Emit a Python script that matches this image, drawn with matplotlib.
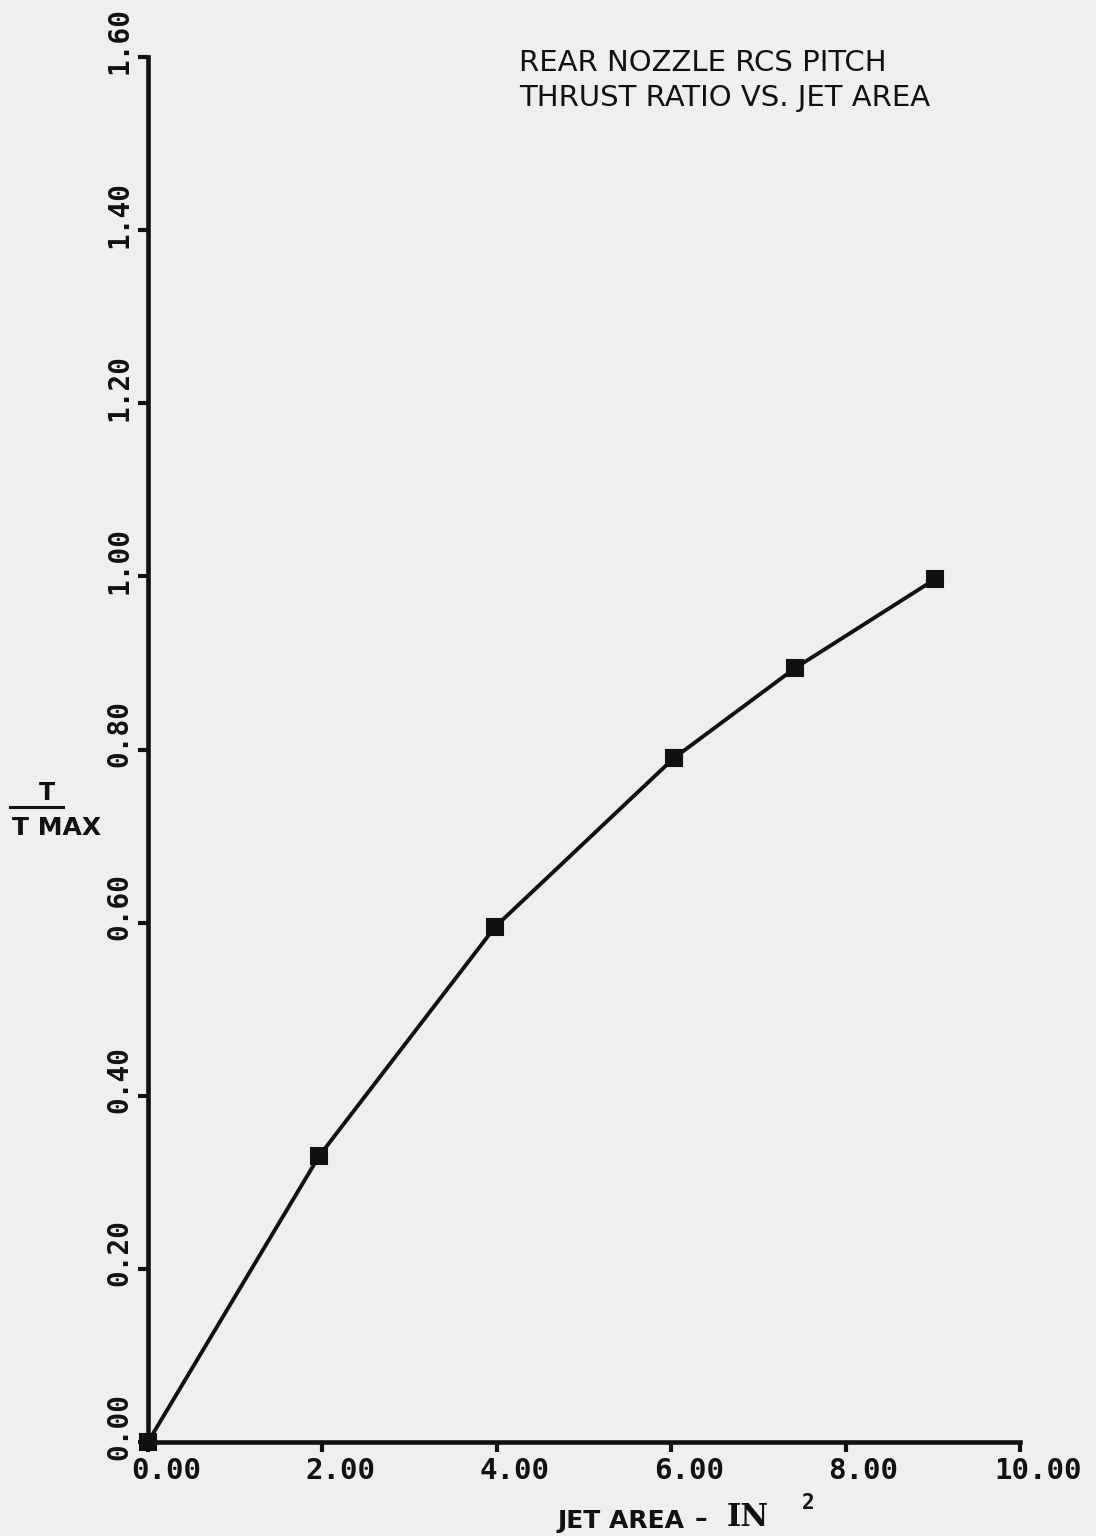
import matplotlib
matplotlib.use("Agg")
import matplotlib.pyplot as plt
from matplotlib.lines import Line2D
from matplotlib.transforms import ScaledTranslation

# data
jet_area = [0.0, 1.96, 3.98, 6.03, 7.42, 9.03]
thrust_ratio = [0.0, 0.330, 0.595, 0.790, 0.894, 0.997]

x_ticks = [0, 2, 4, 6, 8, 10]
x_tick_labels = ["0.00", "2.00", "4.00", "6.00", "8.00", "10.00"]
y_ticks = [0.0, 0.2, 0.4, 0.6, 0.8, 1.0, 1.2, 1.4, 1.6]
y_tick_labels = ["0.00", "0.20", "0.40", "0.60", "0.80", "1.00", "1.20", "1.40", "1.60"]

title_lines = ["REAR NOZZLE RCS PITCH", "THRUST RATIO VS. JET AREA"]

paper = "#efefed"
ink = "#111111"
W, H = 1096, 1536


def fx(px):
    return px / W


def fy(py):
    return 1 - py / H


fig = plt.figure(figsize=(10.96, 15.36), dpi=100, facecolor=paper)
ax = fig.add_axes([fx(148), fy(1442), (1020 - 148) / W, (1442 - 57) / H])
ax.set_facecolor(paper)

ax.plot(jet_area, thrust_ratio, color=ink, lw=2.8, marker="s", ms=12,
        mfc=ink, mec=ink, mew=1.5, clip_on=False, zorder=3)

ax.set_xlim(0, 10)
ax.set_ylim(0, 1.6)
for side in ("top", "right"):
    ax.spines[side].set_visible(False)
for side in ("left", "bottom"):
    ax.spines[side].set_linewidth(3.3)
    ax.spines[side].set_color(ink)

ax.tick_params(direction="out", length=7, width=3, colors=ink)

# plotter-style tick labels
ax.set_xticks(x_ticks)
ax.set_xticklabels(x_tick_labels, family="DejaVu Sans Mono", weight="bold",
                   size=21, color=ink)
for lab in ax.get_xticklabels():
    lab.set_transform(lab.get_transform() + ScaledTranslation(0.18, 0, fig.dpi_scale_trans))

ax.set_yticks(y_ticks)
ax.set_yticklabels(y_tick_labels, family="DejaVu Sans Mono", weight="bold",
                   size=20, color=ink, rotation=90, va="center")
for lab in ax.get_yticklabels():
    lab.set_transform(lab.get_transform() + ScaledTranslation(0, 0.16, fig.dpi_scale_trans))

# title block, top right
fig.text(fx(519), fy(63), title_lines[0], fontsize=21, family="DejaVu Sans",
         color=ink, va="center", ha="left")
fig.text(fx(519), fy(98), title_lines[1], fontsize=21, family="DejaVu Sans",
         color=ink, va="center", ha="left")

# y label as fraction T / T MAX
fig.text(fx(47), fy(793), "T", fontsize=17, weight="bold", color=ink,
         ha="center", va="center")
fig.add_artist(Line2D([fx(10), fx(63)], [fy(807), fy(807)],
                      transform=fig.transFigure, color=ink, lw=2.2))
fig.text(fx(12), fy(828), "T MAX", fontsize=18, weight="bold", color=ink,
         ha="left", va="center")

# x label
fig.text(fx(557), fy(1521), "JET AREA", fontsize=18, weight="bold",
         color=ink, ha="left", va="center")
fig.text(fx(701), fy(1519), "\u2013", fontsize=18, weight="bold",
         color=ink, ha="center", va="center")
fig.text(fx(727), fy(1517), "IN", fontsize=22, weight="bold",
         family="DejaVu Serif", color=ink, ha="left", va="center")
fig.text(fx(802), fy(1503), "2", fontsize=15, weight="bold",
         family="DejaVu Sans Mono", color=ink, ha="left", va="center")

fig.savefig("out.png", dpi=100, facecolor=paper)
